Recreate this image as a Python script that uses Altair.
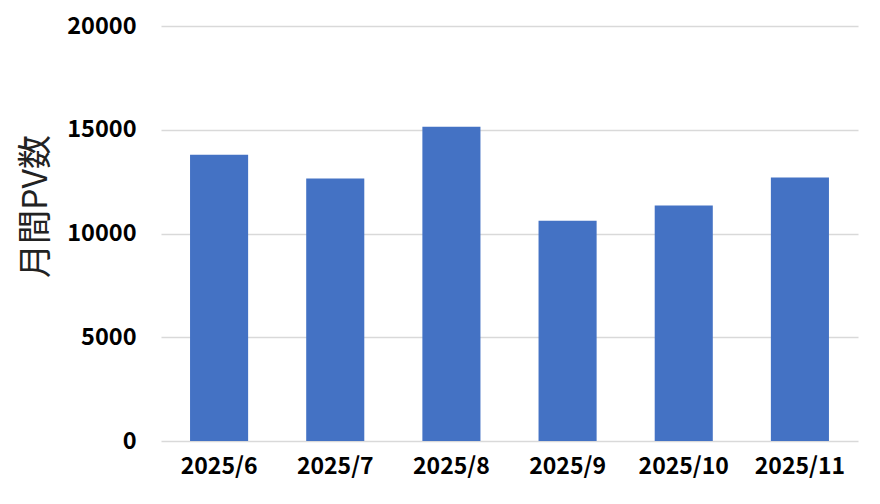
import altair as alt
import pandas as pd

months = ["2025/6", "2025/7", "2025/8", "2025/9", "2025/10", "2025/11"]
pv = [13800, 12650, 15150, 10620, 11350, 12700]

df = pd.DataFrame({"month": months, "pv": pv})

FONT = "Noto Sans CJK JP"

chart = alt.Chart(df).mark_bar(color="#4472C4").encode(
    x=alt.X("month:N", sort=months, title=None,
            scale=alt.Scale(paddingInner=0.5, paddingOuter=0.25),
            axis=alt.Axis(labelAngle=0, labelFontSize=23, labelFontWeight="bold",
                          labelColor="#000000", labelFont=FONT, labelPadding=14,
                          ticks=False, domain=False, grid=False)),
    y=alt.Y("pv:Q", title="月間PV数",
            scale=alt.Scale(domain=[0, 20000], nice=False),
            axis=alt.Axis(values=[0, 5000, 10000, 15000, 20000], format="d",
                          labelFontSize=23.5,
                          labelFontWeight="bold", labelColor="#000000", labelFont=FONT,
                          labelPadding=25, ticks=False, domain=False,
                          gridColor="#d9d9d9", gridWidth=1.5,
                          titleFont=FONT, titleFontSize=34, titleFontWeight="normal",
                          titleColor="#222222", titleAngle=-90,
                          titleX=-125, titleY=180, titleAlign="center",
                          titleBaseline="middle")),
).properties(
    width=697, height=415,
    background="white",
    autosize=alt.AutoSizeParams(type="none"),
    padding={"left": 153, "top": 18, "right": 14, "bottom": 40},
).configure_view(strokeWidth=0, stroke=None)

chart.save("out.html", embed_options={"renderer": "svg", "actions": False})
